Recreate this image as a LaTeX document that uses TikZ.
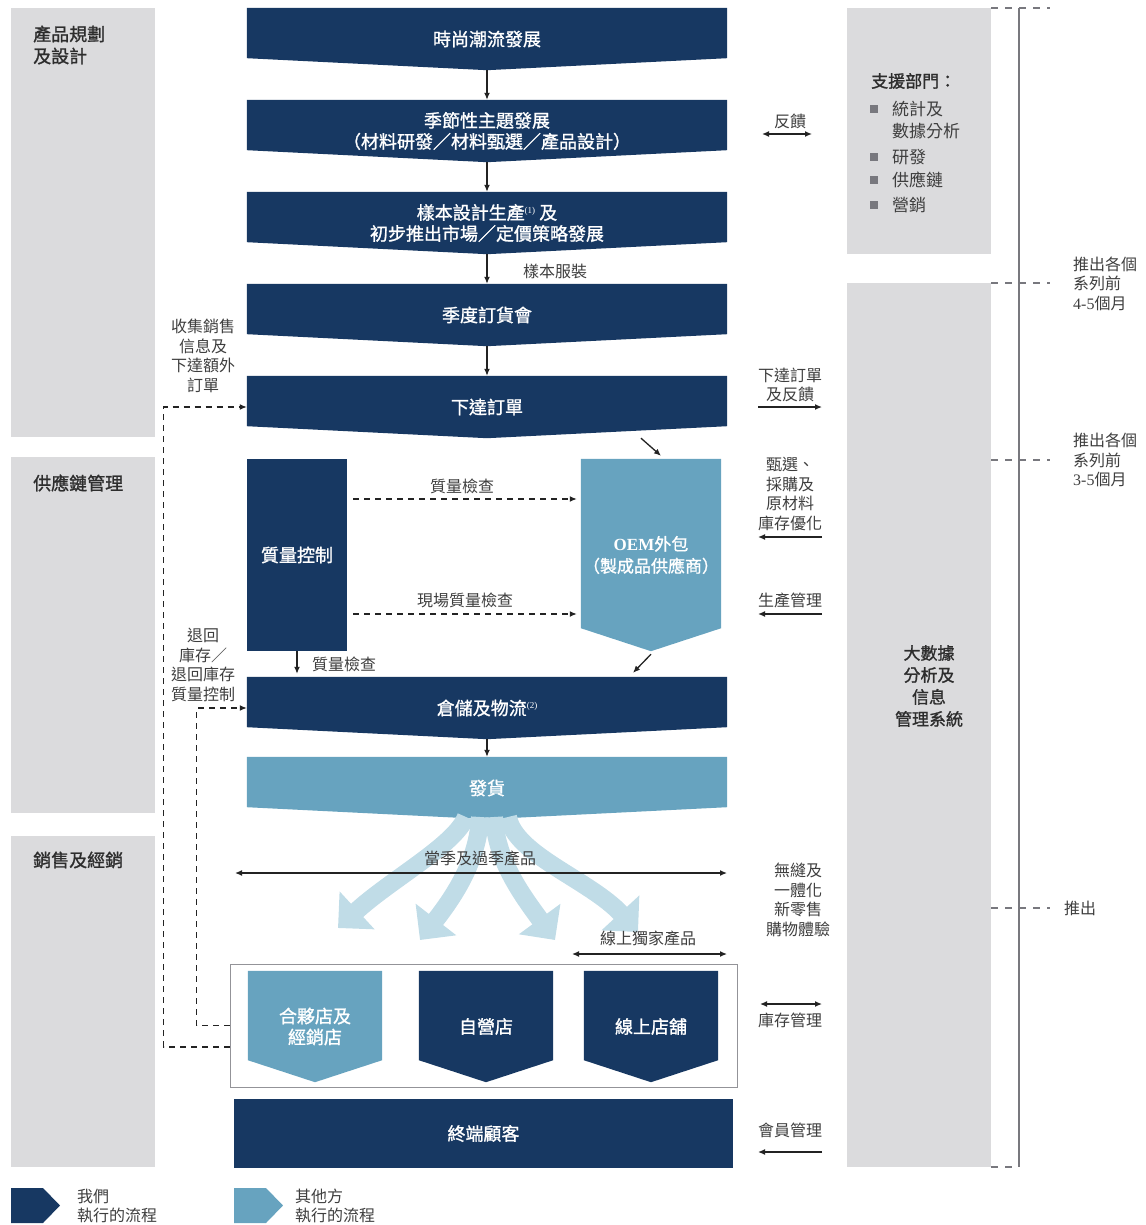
\documentclass[tikz,border=0pt]{standalone}
\usepackage{fontspec}
\setmainfont{Noto Sans CJK TC}
\newfontfamily\hkmedium[FakeBold=1.2]{Noto Sans CJK TC}
\newfontfamily\hkserif{Liberation Serif}
\usepackage{xcolor}
\usetikzlibrary{arrows.meta,backgrounds}
\definecolor{hknavy}{RGB}{23,56,98}
\definecolor{hkblue}{RGB}{103,163,191}
\definecolor{hkfan}{RGB}{192,220,231}
\definecolor{hkpanel}{RGB}{219,219,221}
\definecolor{hktext}{RGB}{62,62,62}
\definecolor{hkhead}{RGB}{45,45,45}
\definecolor{hkline}{RGB}{35,35,35}
\definecolor{hktime}{RGB}{120,120,126}
\newcommand{\hkbig}{\fontsize{18}{21}\selectfont\hkmedium}
\newcommand{\hkmid}{\fontsize{17}{22}\selectfont\hkmedium}
\newcommand{\hktitle}{\fontsize{18}{22}\selectfont\hkmedium}
\newcommand{\hklbl}{\fontsize{16}{19.7}\selectfont}
\newcommand{\hksup}[1]{\raisebox{6pt}{\fontsize{9}{9}\selectfont\hkserif #1}}

\begin{document}
\begin{tikzpicture}[x=1pt,y=-1pt]
    \tikzstyle{flow} = [minimum width=480pt, minimum height=62pt, inner sep=0pt, align=center, text=white, font=\hkbig]
    \tikzstyle{shop} = [minimum width=134pt, minimum height=111pt, inner sep=0pt, align=center, text=white, font=\hkbig]
    \tikzstyle{panel} = [fill=hkpanel, minimum width=144pt, inner sep=0pt]
    \tikzstyle{paneltitle} = [anchor=west, align=left, text=hkhead, font=\hktitle, inner sep=0pt]
    \tikzstyle{lbl} = [align=center, text=hktext, font=\hklbl, inner sep=0pt]
    \tikzstyle{arr} = [draw=hkline, line width=1.3pt, >={Latex[length=7pt,width=6pt]}, ->]
    \tikzstyle{biarr} = [arr, <->]
    \tikzstyle{dasharr} = [arr, dash pattern=on 6pt off 5pt]
    \tikzstyle{fan} = [draw=hkfan, line width=18pt, -{Triangle[length=26pt,width=50pt]}]
    \tikzstyle{tick} = [draw=hktime, line width=1.2pt, dash pattern=on 7pt off 7pt]

    \useasboundingbox (0,0) rectangle (1145,1225);

    % side panels
    \node[panel, minimum height=429pt] (pdesign) at (83,222.5) {};
    \node[panel, minimum height=356pt] (supply) at (83,635) {};
    \node[panel, minimum height=331pt] (sales) at (83,1001.5) {};
    \node[panel, minimum height=246pt] (support) at (919,131) {};
    \node[panel, minimum height=884pt] (bigdata) at (919,725) {};

    \node[paneltitle] (pdesigntxt) at (33,45) {產品規劃\\及設計};
    \node[paneltitle] (supplytxt) at (33,483) {供應鏈管理};
    \node[paneltitle] (salestxt) at (33,860) {銷售及經銷};

    \node[paneltitle, font=\fontsize{17}{22}\selectfont\hkmedium] (supporttxt) at (871,81) {支援部門：};
    \foreach \y/\t in {109/統計及, 131/數據分析, 157/研發, 180/供應鏈, 205/營銷}
        \node[lbl, anchor=west, font=\fontsize{17}{20}\selectfont] at (892,\y) {\t};
    \foreach \y in {109,157,180,205}
        \fill[hktime] (870,{\y-4}) rectangle (878,{\y+4});
    \node[paneltitle, anchor=center, align=center, font=\fontsize{17}{22}\selectfont\hkmedium] (bigdatatxt) at (929,686) {大數據\\分析及\\信息\\管理系統};

    % main flow
    \node[flow] (trend) at (487,39) {時尚潮流發展};
    \node[flow] (theme) at (487,131) {季節性主題發展\\（材料研發／材料甄選／產品設計）};
    \node[flow] (sample) at (487,223) {樣本設計生產\hksup{(1)} 及\\初步推出市場／定價策略發展};
    \node[flow] (fair) at (487,315) {季度訂貨會};
    \node[flow] (order) at (487,407) {下達訂單};
    \node[fill=hknavy, minimum width=100pt, minimum height=192pt, inner sep=0pt, text=white, font=\hkbig] (qc) at (297,555) {質量控制};
    \node[flow, minimum width=140pt, minimum height=192pt, font=\hkmid] (oem) at (651,555) {{\hkserif\bfseries OEM}外包\\（製成品供應商）};
    \node[flow] (wh) at (487,708) {倉儲及物流\hksup{(2)}};
    \node[flow] (ship) at (487,788) {發貨};

    \node[draw=hktime!80, line width=1pt, minimum width=507pt, minimum height=123pt] (shopframe) at (483.5,1025.5) {};
    \node[shop] (partner) at (315,1026.5) {合夥店及\\經銷店};
    \node[shop] (own) at (486,1026.5) {自營店};
    \node[shop] (online) at (651,1026.5) {線上店舖};
    \node[fill=hknavy, minimum width=499pt, minimum height=69pt, text=white, font=\hkbig] (cust) at (483.5,1133.5) {終端顧客};

    \begin{scope}[on background layer]
        \foreach \n/\c/\d in {trend/hknavy/12, theme/hknavy/12, sample/hknavy/12, fair/hknavy/12, order/hknavy/12, wh/hknavy/12, ship/hkblue/12, oem/hkblue/23, partner/hkblue/22, own/hknavy/22, online/hknavy/22}
            \fill[\c] (\n.north west) -- (\n.north east) -- ([yshift=\d pt]\n.south east) -- (\n.south) -- ([yshift=\d pt]\n.south west) -- cycle;
    \end{scope}

    \foreach \a/\b in {trend/theme, theme/sample, sample/fair, fair/order, wh/ship}
        \draw[arr] (\a.south) -- (\b.north);
    \node[lbl] (samplelbl) at (555,271) {樣本服裝};

    \draw[arr] ([xshift=154pt]order.south) -- ([xshift=10pt,yshift=3pt]oem.north);
    \draw[arr] ([yshift=-3pt]oem.south) -- ([xshift=146pt,yshift=4pt]wh.north);
    \draw[arr, shorten >=3pt] (qc.south) -- (qc.south |- wh.north);
    \node[lbl] (qclbl) at (344,664) {質量檢查};

    \draw[dasharr, shorten <=6pt, shorten >=4pt] ([yshift=56pt]qc.east) -- ([yshift=56pt]oem.west);
    \node[lbl] (checklbl) at (462,486) {質量檢查};
    \draw[dasharr, shorten <=6pt, shorten >=4pt] ([yshift=-59pt]qc.east) -- ([yshift=-59pt]oem.west);
    \node[lbl] (sitelbl) at (465,600) {現場質量檢查};

    % feedback loops on the left
    \node[lbl] (collectlbl) at (203,356) {收集銷售\\信息及\\下達額外\\訂單};
    \node[lbl] (returnlbl) at (203,665) {退回\\庫存／\\退回庫存\\質量控制};
    \draw[dasharr] ([yshift=-21.5pt]shopframe.west) -- ++(-66,0) |- (order.west);
    \draw[dasharr] (shopframe.west) -- ++(-33,0) |- (wh.west);

    % distribution fan
    \draw[fan] (466,817) .. controls (455,845) and (390,880) .. (338,928);
    \draw[fan] (480,817) .. controls (478,860) and (455,895) .. (420,940);
    \draw[fan] (494,817) .. controls (496,860) and (522,895) .. (555,940);
    \draw[fan] (508,817) .. controls (515,855) and (590,880) .. (638,932);

    \coordinate (seasonL) at (235,873);
    \coordinate (seasonR) at (727,873);
    \draw[biarr] (seasonL) -- (seasonR);
    \node[lbl] (seasonlbl) at (480,858) {當季及過季產品};
    \coordinate (exclL) at (572,954);
    \coordinate (exclR) at (727,954);
    \draw[biarr] (exclL) -- (exclR);
    \node[lbl] (excllbl) at (648,938) {線上獨家產品};

    % right-hand labels
    \node[lbl] (fblbl) at (790,121) {反饋};
    \coordinate (fbL) at (762,134);
    \coordinate (fbR) at (812,134);
    \draw[biarr] (fbL) -- (fbR);
    \node[lbl] (ordfblbl) at (790,385) {下達訂單\\及反饋};
    \coordinate (ordfbL) at (758,407);
    \coordinate (ordfbR) at (822,407);
    \draw[arr] (ordfbL) -- (ordfbR);
    \node[lbl] (sourcelbl) at (790,494) {甄選、\\採購及\\原材料\\庫存優化};
    \coordinate (sourceL) at (758,537);
    \coordinate (sourceR) at (822,537);
    \draw[arr] (sourceR) -- (sourceL);
    \node[lbl] (prodlbl) at (790,600) {生產管理};
    \coordinate (prodL) at (758,614);
    \coordinate (prodR) at (822,614);
    \draw[arr] (prodR) -- (prodL);
    \node[lbl] (seamlesslbl) at (798,900) {無縫及\\一體化\\新零售\\購物體驗};
    \coordinate (invL) at (760,1004);
    \coordinate (invR) at (822,1004);
    \draw[biarr] (invL) -- (invR);
    \node[lbl] (invlbl) at (790,1020) {庫存管理};
    \node[lbl] (memberlbl) at (790,1130) {會員管理};
    \coordinate (memberL) at (758,1152);
    \coordinate (memberR) at (822,1152);
    \draw[arr] (memberR) -- (memberL);

    % timeline
    \draw[hktime, line width=1.3pt] (1019,8) -- (1019,1167);
    \foreach \y in {8,283,460,908}
        \draw[tick] (991,\y) -- (1050,\y);
    \draw[tick] (991,1167) -- (1019,1167);
    \node[lbl, anchor=west, align=left, font=\fontsize{16}{19.5}\selectfont] (t45) at (1073,283.5) {推出各個\\系列前\\{\hkserif 4-5}個月};
    \node[lbl, anchor=west, align=left, font=\fontsize{16}{19.5}\selectfont] (t35) at (1073,460) {推出各個\\系列前\\{\hkserif 3-5}個月};
    \node[lbl, anchor=west] (tlaunch) at (1064,908) {推出};

    % legend
    \fill[hknavy] (11,1188) -- (43,1188) -- (60,1205.5) -- (43,1223) -- (11,1223) -- cycle;
    \node[lbl, anchor=west, align=left, font=\fontsize{16}{19}\selectfont] (legus) at (77,1205.5) {我們\\執行的流程};
    \fill[hkblue] (234,1188) -- (266,1188) -- (283,1205.5) -- (266,1223) -- (234,1223) -- cycle;
    \node[lbl, anchor=west, align=left, font=\fontsize{16}{19}\selectfont] (legother) at (295,1205.5) {其他方\\執行的流程};
\end{tikzpicture}
\end{document}
